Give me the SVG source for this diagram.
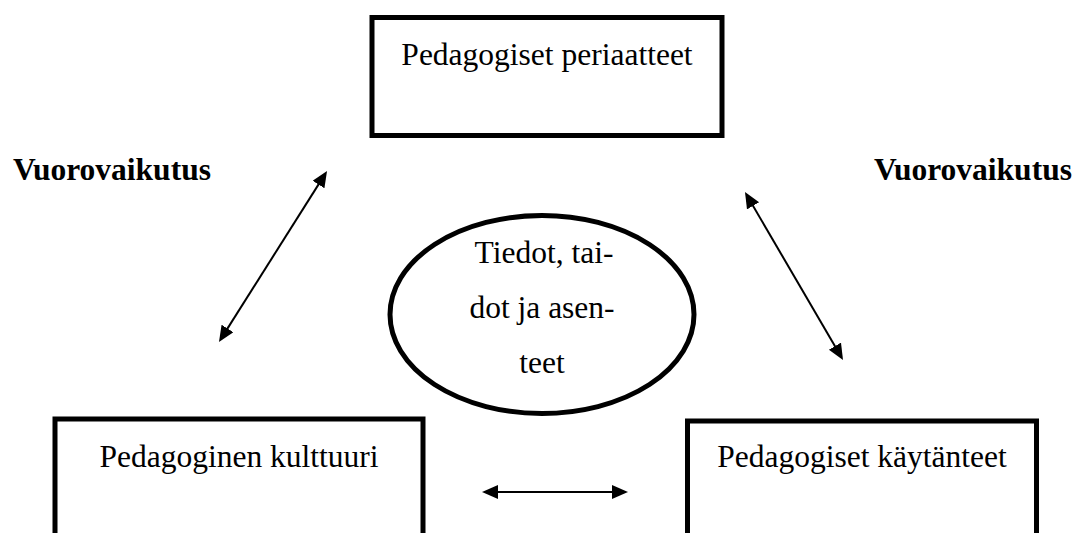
<svg xmlns="http://www.w3.org/2000/svg" width="1079" height="533" viewBox="0 0 1079 533">
<style>
.box{fill:#fff;stroke:#000;stroke-width:5}
.t{font-family:"Liberation Serif","Times New Roman",serif;font-size:31.5px;fill:#000;text-anchor:middle}
.b{font-weight:bold}
.c{stroke:#000;stroke-width:2;fill:none;marker-start:url(#ah);marker-end:url(#ah)}
</style>
<defs>
<marker id="ah" markerUnits="userSpaceOnUse" markerWidth="17" markerHeight="15" refX="12" refY="7" orient="auto-start-reverse" viewBox="0 0 17 15">
<path d="M0,0 L16,7 L0,14 z" fill="#000"/>
</marker>
</defs>
<rect width="1079" height="533" fill="#fff"/>
<g id="periaatteet">
<rect class="box" x="372" y="17.5" width="350" height="118"/>
<text class="t" x="547" y="65">Pedagogiset periaatteet</text>
</g>
<g id="kulttuuri">
<rect class="box" x="55" y="419" width="368" height="140"/>
<text class="t" x="239" y="467">Pedagoginen kulttuuri</text>
</g>
<g id="kaytanteet">
<rect class="box" x="687.5" y="421" width="349" height="140"/>
<text class="t" x="862" y="467">Pedagogiset käytänteet</text>
</g>
<g id="tiedot">
<ellipse class="box" cx="542" cy="314.5" rx="152" ry="99"/>
<text class="t" x="544" y="263">Tiedot, tai-</text>
<text class="t" x="542" y="318">dot ja asen-</text>
<text class="t" x="542" y="373">teet</text>
</g>
<g id="labels">
<text class="t b" x="112" y="180">Vuorovaikutus</text>
<text class="t b" x="973" y="180">Vuorovaikutus</text>
</g>
<g id="connectors">
<line class="c" x1="324.9" y1="174.4" x2="221.1" y2="338.6"/>
<line class="c" x1="747" y1="195.5" x2="841" y2="356.5"/>
<line class="c" x1="486" y1="492" x2="624" y2="492"/>
</g>
</svg>
